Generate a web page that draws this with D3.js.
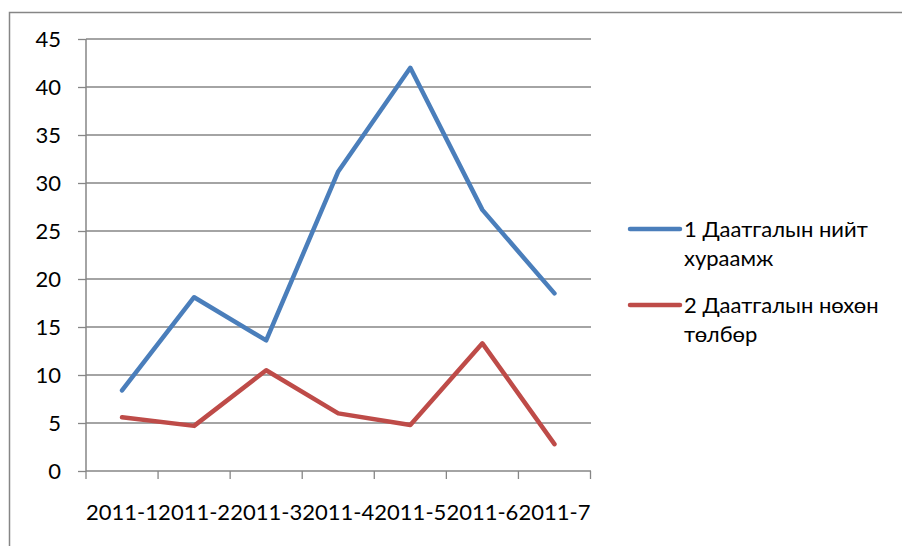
<!DOCTYPE html>
<html><head><meta charset="utf-8">
<script src="https://cdn.jsdelivr.net/npm/d3@7"></script>
<style>body{margin:0;background:#fff;overflow:hidden}svg{display:block}</style>
</head><body>
<svg id="c" width="902" height="546"></svg>
<script>
const categories = ["2011-1","2011-2","2011-3","2011-4","2011-5","2011-6","2011-7"];
const seriesNames = [["1 Даатгалын нийт","хураамж"],["2 Даатгалын нөхөн","төлбөр"]];
const series1 = [8.4, 18.1, 13.6, 31.2, 42.0, 27.2, 18.5];
const series2 = [5.6, 4.7, 10.5, 6.0, 4.8, 13.3, 2.8];
const yTicks = [0,5,10,15,20,25,30,35,40,45];
const colors = ["#4A7EBB","#BE4B48"];

const svg = d3.select("#c");
const font = "Lato, 'Open Sans', sans-serif";
// chart-area frame: only top and left edges fall inside the picture
svg.append("path").attr("d","M9.5,546V12.5H902")
  .attr("fill","none").attr("stroke","#868686").attr("stroke-width",1.5);

const x = d3.scaleBand().domain(categories).range([86,590.5]);
const y = d3.scaleLinear().domain([0,45]).range([471,39]);

// gridlines
svg.append("g").selectAll("line").data(yTicks.filter(d=>d>0)).join("line")
  .attr("x1",86).attr("x2",591).attr("y1",d=>y(d)).attr("y2",d=>y(d))
  .attr("stroke","#868686").attr("stroke-width",1.3);

const yAx = svg.append("g").attr("transform","translate(86,0)")
  .call(d3.axisLeft(y).tickValues(yTicks).tickSize(8).tickPadding(17));
yAx.select(".domain").attr("stroke","#868686").attr("stroke-width",1.5).attr("d","M0,39V471");
yAx.selectAll(".tick line").attr("stroke","#868686").attr("stroke-width",1.3);
yAx.selectAll("text").attr("font-family",font).attr("font-size",22).attr("fill","#000");

const xAx = svg.append("g").attr("transform","translate(0,471)")
  .call(d3.axisBottom(x).tickSize(0).tickPadding(33));
xAx.select(".domain").attr("stroke","#868686").attr("stroke-width",1.5).attr("d","M86,0H591");
xAx.selectAll("text").attr("font-family",font).attr("font-size",22).attr("fill","#000");
// band boundary ticks
svg.append("g").selectAll("line").data(categories.map(c=>x(c)).concat([x.range()[1]])).join("line")
  .attr("x1",d=>d).attr("x2",d=>d).attr("y1",471).attr("y2",479)
  .attr("stroke","#868686").attr("stroke-width",1.3);

const line = d3.line().x((d,i)=>x(categories[i])+x.bandwidth()/2).y(d=>y(d));
[series1,series2].forEach((s,k)=>{
  svg.append("path").attr("d",line(s)).attr("fill","none").attr("stroke",colors[k])
    .attr("stroke-width",4.5).attr("stroke-linejoin","round").attr("stroke-linecap","round");
});

// legend
const lg = svg.append("g");
[229,305].forEach((ly,k)=>{
  lg.append("line").attr("x1",630).attr("x2",680).attr("y1",ly).attr("y2",ly)
    .attr("stroke",colors[k]).attr("stroke-width",4.5).attr("stroke-linecap","round");
  const t = lg.append("text").attr("x",684).attr("y",ly+8).attr("font-family",font)
    .attr("font-size",22).attr("fill","#000");
  seriesNames[k].forEach((s,i)=>t.append("tspan").attr("x",684).attr("dy",i?28.5:0).text(s));
});
</script>
</body></html>
